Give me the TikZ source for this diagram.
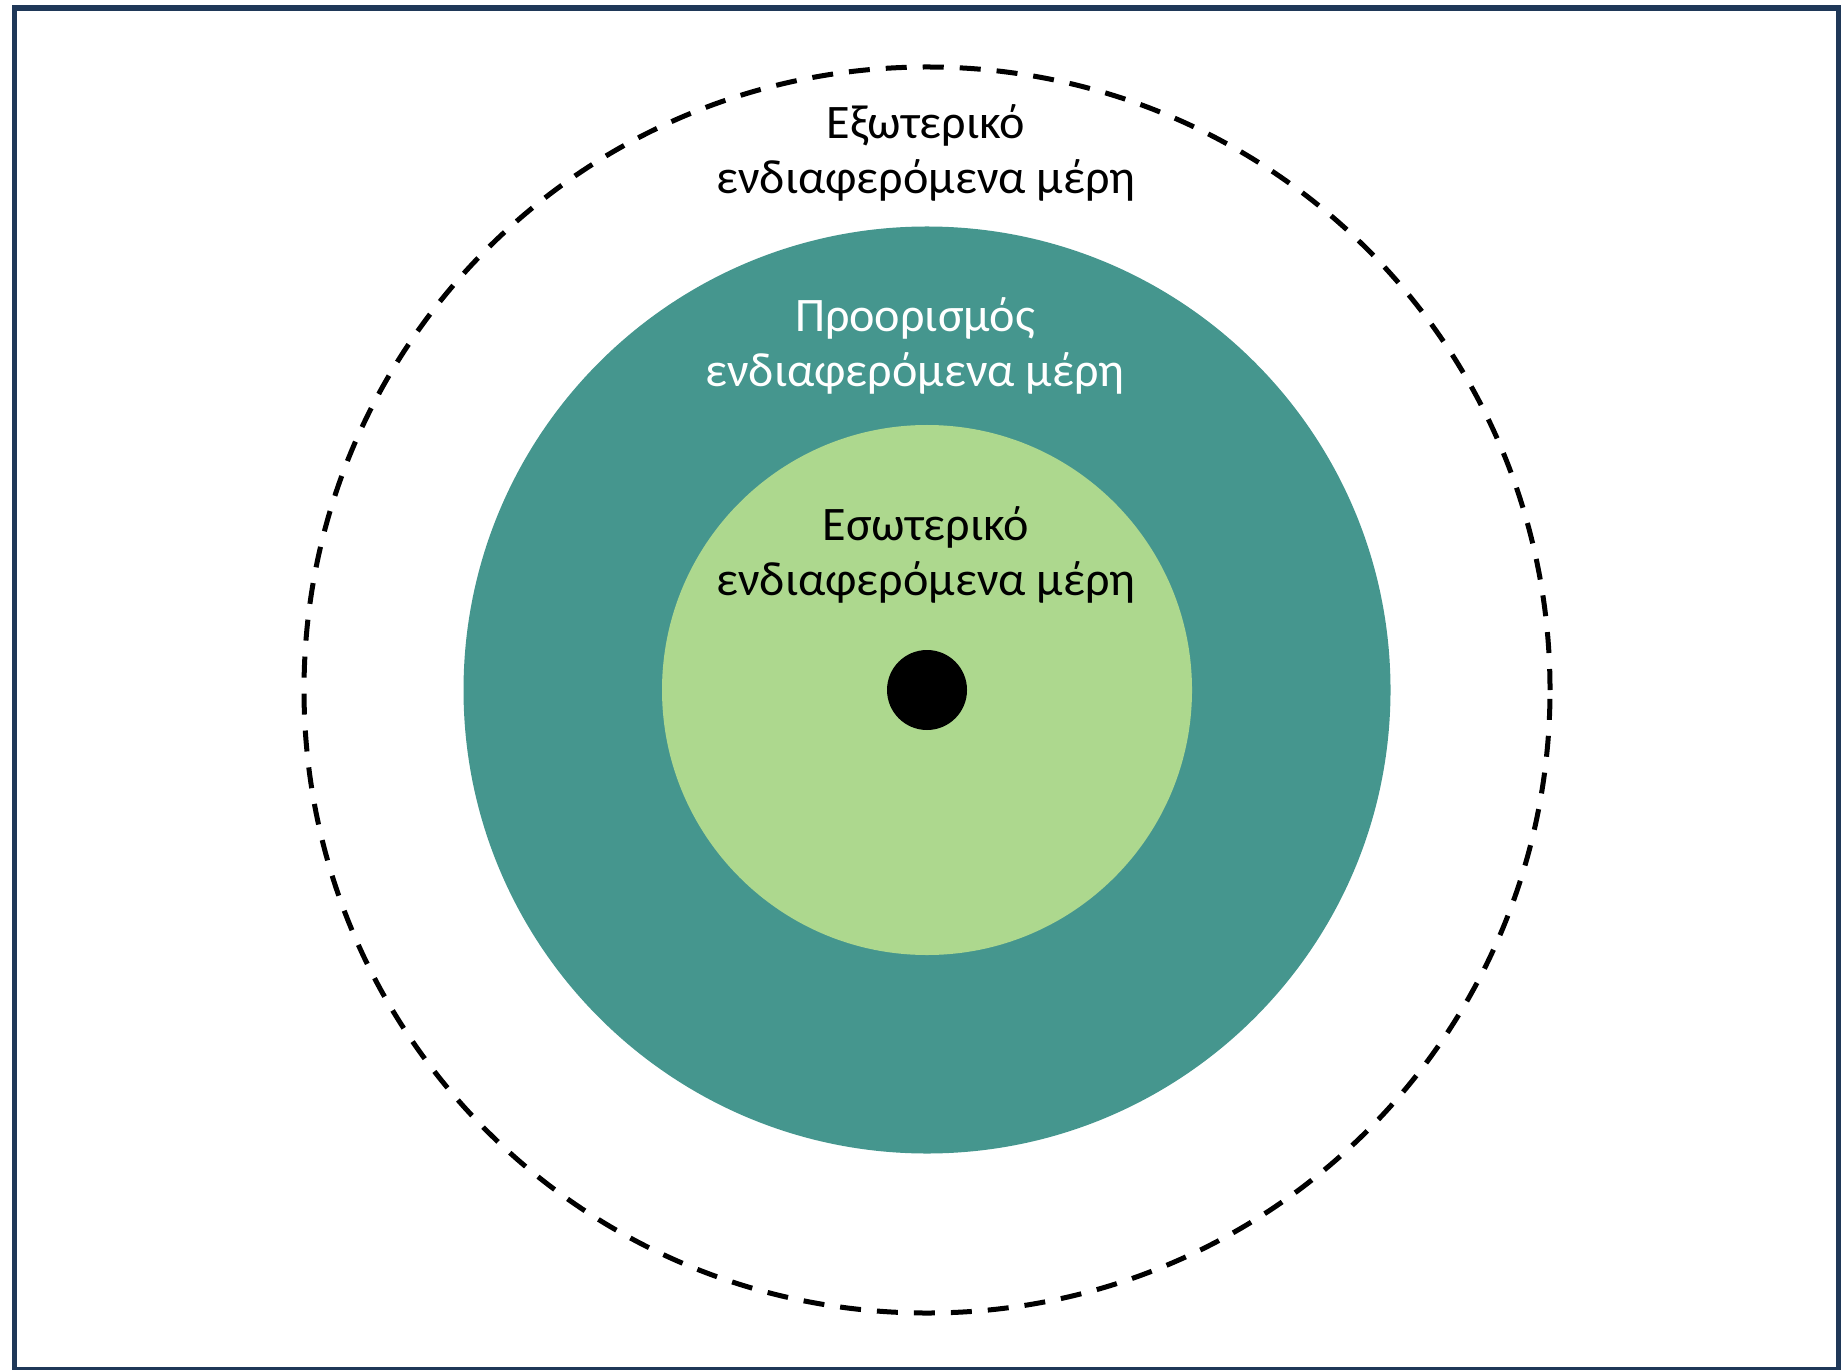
\documentclass[tikz,border=0pt]{standalone}
\usepackage{fontspec}
\setmainfont{Carlito}
\usetikzlibrary{positioning}

\definecolor{framecol}{RGB}{31,56,88}
\definecolor{destcol}{RGB}{69,150,142}
\definecolor{innercol}{RGB}{173,216,142}

\begin{document}
\begin{tikzpicture}[
				ring/.style={circle, draw=none, inner sep=0pt},
				label/.style={align=center, inner sep=0pt, font=\fontsize{13.7pt}{15.6pt}\selectfont},
				outline/.style={circle, draw, line width=0.05cm, dash pattern=on 0.21cm off 0.16cm, inner sep=0pt}
			]
			\useasboundingbox (0,0) rectangle (18.43,-13.69);
			\draw [framecol, line width=0.055cm] (0.145,-0.08) rectangle (18.385,-13.70);

			\coordinate (centre) at (9.27,-6.90);
			\node [outline, minimum size=12.46cm] (external) at (centre) {};
			\node [ring, fill=destcol, minimum size=9.27cm] (dest) at (centre) {};
			\node [ring, fill=innercol, minimum size=5.30cm] (internal) at (centre) {};
			\node [ring, fill=black, minimum size=0.80cm] (core) at (centre) {};

			\node [label] (externaltxt) at (9.26,-1.53) {Εξωτερικό\\ ενδιαφερόμενα μέρη};
			\node [label, text=white] (desttxt) at (9.15,-3.46) {Προορισμός\\ ενδιαφερόμενα μέρη};
			\node [label] (internaltxt) at (9.26,-5.55) {Εσωτερικό\\ ενδιαφερόμενα μέρη};
		\end{tikzpicture}
\end{document}
